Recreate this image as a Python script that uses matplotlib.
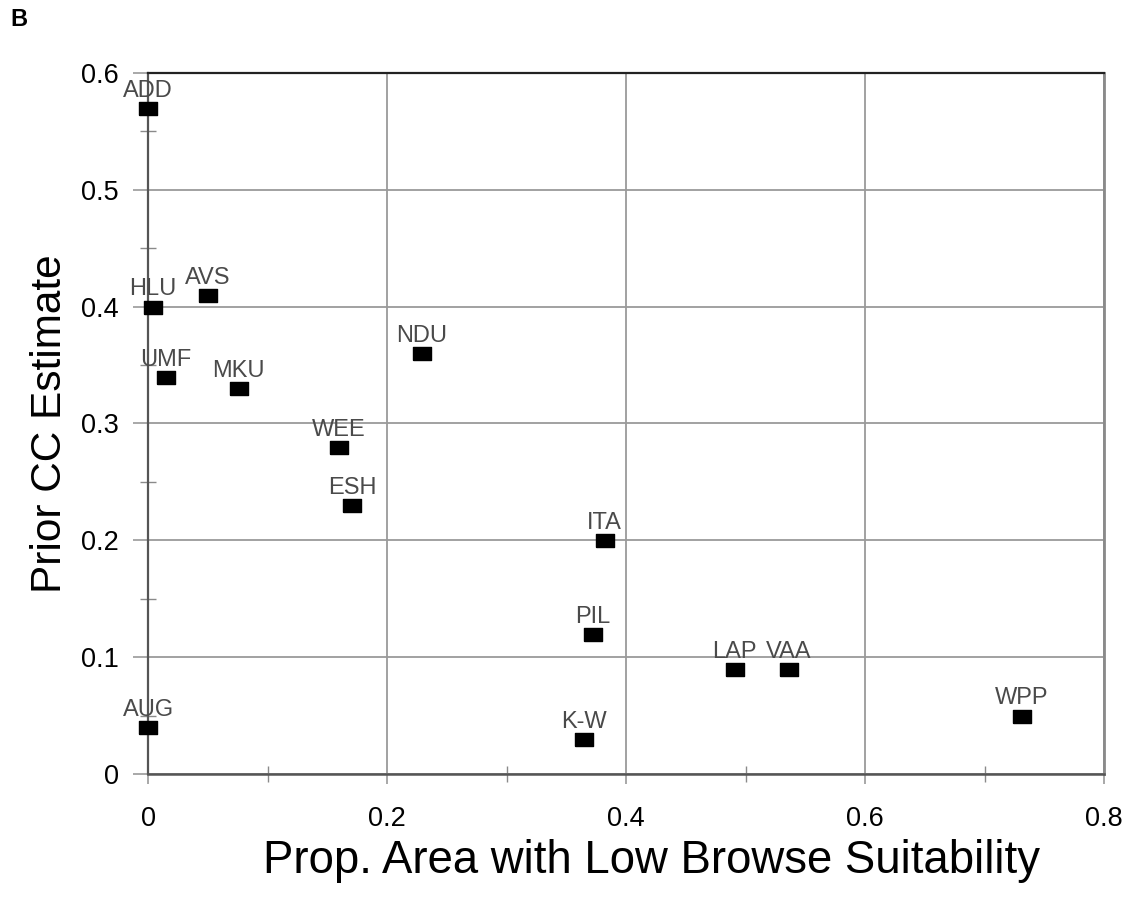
import numpy as np
import matplotlib
matplotlib.use("Agg")
import matplotlib.pyplot as plt
from matplotlib.ticker import MultipleLocator

plt.rcParams["font.family"] = ["Liberation Sans", "DejaVu Sans"]

# Site data
sites = ["ADD", "HLU", "AVS", "UMF", "MKU", "NDU", "WEE", "ESH",
         "ITA", "PIL", "LAP", "VAA", "K-W", "WPP", "AUG"]
low_browse = [0.0, 0.004, 0.050, 0.015, 0.076, 0.229, 0.160, 0.171,
              0.382, 0.372, 0.491, 0.536, 0.365, 0.731, 0.0]
prior_cc = [0.57, 0.40, 0.41, 0.34, 0.33, 0.36, 0.28, 0.23,
            0.20, 0.12, 0.09, 0.09, 0.03, 0.05, 0.04]

# wide rectangle marker
rect = [(-1, -0.72), (1, -0.72), (1, 0.72), (-1, 0.72), (-1, -0.72)]

fig = plt.figure(figsize=(11.3, 9), dpi=100)
ax = fig.add_axes([0.131, 0.14, 0.846, 0.779])

ax.set_xlim(0, 0.8)
ax.set_ylim(0, 0.6)

# grid
ax.xaxis.set_major_locator(MultipleLocator(0.2))
ax.yaxis.set_major_locator(MultipleLocator(0.1))
ax.xaxis.set_minor_locator(MultipleLocator(0.1))
ax.yaxis.set_minor_locator(MultipleLocator(0.05))
ax.grid(True, which="major", color="#9a9a9a", linewidth=1.3)
ax.set_axisbelow(True)

ax.plot(low_browse, prior_cc, linestyle="none", marker=rect, markersize=13,
        color="black", zorder=5, clip_on=False)

for name, x, y in zip(sites, low_browse, prior_cc):
    ax.annotate(name, (x, y), xytext=(0, 8), textcoords="offset points",
                ha="center", va="baseline", fontsize=17, color="#4a4a4a",
                zorder=6, annotation_clip=False)

# spines
ax.spines["left"].set_color("#555555")
ax.spines["left"].set_linewidth(1.6)
ax.spines["bottom"].set_color("#555555")
ax.spines["bottom"].set_linewidth(1.8)
ax.spines["top"].set_color("#222222")
ax.spines["top"].set_linewidth(1.6)
ax.spines["right"].set_color("#8a8a8a")
ax.spines["right"].set_linewidth(2)

ax.tick_params(axis="y", which="major", length=11, width=1.2, color="#9a9a9a",
               labelsize=19.5, pad=10, direction="out")
ax.tick_params(axis="x", which="major", length=7, width=1.2, color="#9a9a9a",
               labelsize=19.5, pad=16, direction="out")
ax.tick_params(axis="both", which="minor", length=12, width=1.0,
               color="#8a8a8a", direction="inout")

ax.set_xticks([0, 0.2, 0.4, 0.6, 0.8])
ax.set_xticklabels(["0", "0.2", "0.4", "0.6", "0.8"])
ax.set_yticks([0, 0.1, 0.2, 0.3, 0.4, 0.5, 0.6])
ax.set_yticklabels(["0", "0.1", "0.2", "0.3", "0.4", "0.5", "0.6"])

ax.set_xlabel("Prop. Area with Low Browse Suitability", fontsize=32.8)
ax.xaxis.set_label_coords(0.527, -0.093)
ax.set_ylabel("Prior CC Estimate", fontsize=30.5, labelpad=8)

fig.text(0.009, 0.966, "B", fontsize=17, fontweight="bold", ha="left", va="bottom")

fig.savefig("out.png", dpi=100)
